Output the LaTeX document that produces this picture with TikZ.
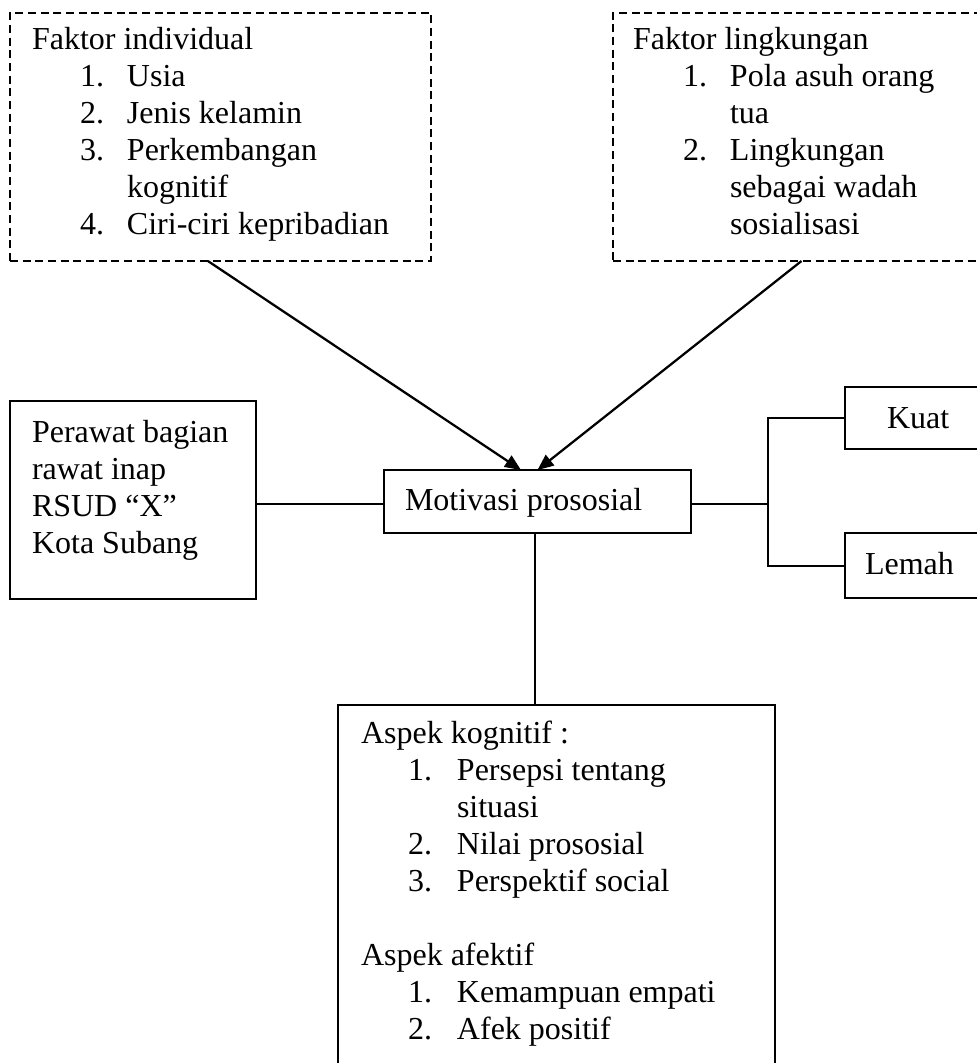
\documentclass[tikz,border=0pt]{standalone}
\usepackage{fontspec}
\setmainfont{Liberation Serif}
\usetikzlibrary{arrows.meta,calc}
\begin{document}
\begin{tikzpicture}[x=0.75pt,y=-0.75pt,
  boxline/.style={draw,line width=1.5pt,inner sep=0pt,outer sep=0pt},
  dashbox/.style={boxline,line width=1.3pt,dash pattern=on 6pt off 3.5pt},
  conn/.style={line width=1.5pt},
  arr/.style={line width=1.7pt,-{Triangle[length=12pt,width=10pt]}},
  txt/.style={anchor=base west,inner sep=0pt,outer sep=0pt,font=\fontsize{24}{27.75}\selectfont}]
\useasboundingbox[fill=white] (0,0) rectangle (976,1063);
% boxes
\node[dashbox,minimum width=421*0.75pt,minimum height=248*0.75pt] (indiv) at (220.5,137) {};
\node[dashbox,minimum width=377*0.75pt,minimum height=248*0.75pt] (lingk) at (801.5,137) {};
\node[boxline,minimum width=246*0.75pt,minimum height=198*0.75pt] (perawat) at (133,500) {};
\node[boxline,minimum width=307*0.75pt,minimum height=63*0.75pt] (motiv) at (537.5,501.5) {};
\node[boxline,minimum width=145*0.75pt,minimum height=62*0.75pt] (kuat) at (917.5,418) {};
\node[boxline,minimum width=145*0.75pt,minimum height=65*0.75pt] (lemah) at (917.5,565.5) {};
\node[boxline,minimum width=437*0.75pt,minimum height=375*0.75pt] (aspek) at (556.5,892.5) {};
% texts
\node[txt] (tindiv) at (32,50) {\begin{tabular}[t]{@{}l@{}}
Faktor individual\\
\hspace*{36pt}\makebox[35.25pt][l]{1.}Usia\\
\hspace*{36pt}\makebox[35.25pt][l]{2.}Jenis kelamin\\
\hspace*{36pt}\makebox[35.25pt][l]{3.}Perkembangan\\
\hspace*{71.25pt}kognitif\\
\hspace*{36pt}\makebox[35.25pt][l]{4.}Ciri-ciri kepribadian
\end{tabular}};
\node[txt] (tlingk) at (633,50) {\begin{tabular}[t]{@{}l@{}}
Faktor lingkungan\\
\hspace*{37.5pt}\makebox[35.25pt][l]{1.}Pola asuh orang\\
\hspace*{72.75pt}tua\\
\hspace*{37.5pt}\makebox[35.25pt][l]{2.}Lingkungan\\
\hspace*{72.75pt}sebagai wadah\\
\hspace*{72.75pt}sosialisasi
\end{tabular}};
\node[txt] (tperawat) at (32,442) {\begin{tabular}[t]{@{}l@{}}
Perawat bagian\\
rawat inap\\
RSUD ``X''\\
Kota Subang
\end{tabular}};
\node[txt] (tmotiv) at (405,510) {Motivasi prososial};
\node[txt] (tkuat) at (887,428) {Kuat};
\node[txt] (tlemah) at (865,574) {Lemah};
\node[txt] (taspek) at (361,743) {\begin{tabular}[t]{@{}l@{}}
Aspek kognitif :\\
\hspace*{35.25pt}\makebox[36.75pt][l]{1.}Persepsi tentang\\
\hspace*{72pt}situasi\\
\hspace*{35.25pt}\makebox[36.75pt][l]{2.}Nilai prososial\\
\hspace*{35.25pt}\makebox[36.75pt][l]{3.}Perspektif social\\
\\
Aspek afektif\\
\hspace*{35.25pt}\makebox[36.75pt][l]{1.}Kemampuan empati\\
\hspace*{35.25pt}\makebox[36.75pt][l]{2.}Afek positif
\end{tabular}};
% connectors
\coordinate (bracket) at (768,504);
\draw[conn] (perawat.east |- bracket) -- (motiv.west |- bracket);
\draw[conn] (motiv.east |- bracket) -- (bracket);
\draw[conn] (kuat.west) -| (bracket) |- (lemah.west);
\draw[conn] ([xshift=-1.9pt]motiv.south) -- ([xshift=-1.9pt]motiv.south |- aspek.north);
\draw[arr] ($(indiv.south west)!0.47!(indiv.south east)$) -- ([xshift=-12.4pt]motiv.north);
\draw[arr] (lingk.south) -- (motiv.north);
\end{tikzpicture}
\end{document}
